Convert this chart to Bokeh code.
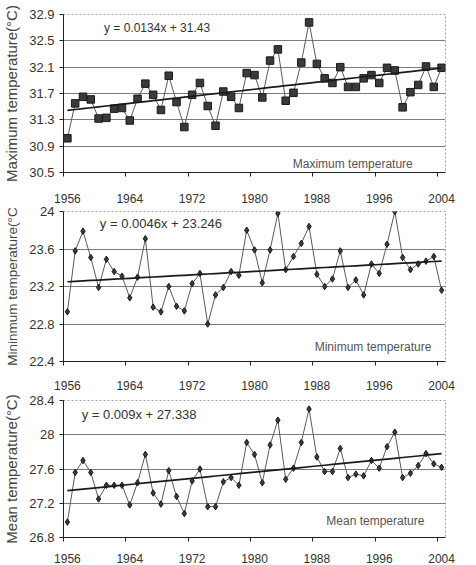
from bokeh.plotting import figure
from bokeh.layouts import column
from bokeh.models import Range1d, FixedTicker, Label
from bokeh.embed import file_html
from bokeh.resources import INLINE

# Annual series, 1956-2004
years = list(range(1956, 2005))

tmax = [31.02, 31.55, 31.65, 31.61, 31.32, 31.33, 31.47, 31.48, 31.29, 31.62,
        31.85, 31.68, 31.45, 31.97, 31.57, 31.19, 31.68, 31.86, 31.51, 31.21,
        31.73, 31.65, 31.48, 32.01, 31.98, 31.64, 32.20, 32.37, 31.59, 31.71,
        32.17, 32.78, 32.15, 31.93, 31.86, 32.10, 31.80, 31.80, 31.93, 31.98,
        31.86, 32.09, 32.05, 31.49, 31.72, 31.83, 32.11, 31.80, 32.09]

tmin = [22.93, 23.58, 23.79, 23.51, 23.19, 23.49, 23.36, 23.31, 23.08, 23.30,
        23.71, 22.98, 22.93, 23.20, 22.99, 22.94, 23.23, 23.34, 22.80, 23.11,
        23.19, 23.36, 23.32, 23.80, 23.59, 23.24, 23.59, 23.98, 23.38, 23.52,
        23.66, 23.84, 23.33, 23.20, 23.28, 23.58, 23.19, 23.27, 23.11, 23.44,
        23.34, 23.65, 24.00, 23.51, 23.38, 23.44, 23.47, 23.52, 23.16]

tmean = [26.98, 27.56, 27.70, 27.56, 27.25, 27.41, 27.41, 27.41, 27.18, 27.44,
         27.77, 27.32, 27.19, 27.58, 27.28, 27.08, 27.46, 27.60, 27.16, 27.16,
         27.45, 27.50, 27.41, 27.91, 27.77, 27.44, 27.88, 28.17, 27.48, 27.61,
         27.91, 28.30, 27.74, 27.57, 27.57, 27.84, 27.50, 27.54, 27.52, 27.70,
         27.61, 27.86, 28.03, 27.50, 27.55, 27.64, 27.78, 27.66, 27.62]

# Linear trend coefficients (x = year index starting at 1)
max_fit = (0.0134, 31.43)
min_fit = (0.0046, 23.246)
mean_fit = (0.009, 27.338)

# Axis ticks and labels
year_labels = [1956, 1964, 1972, 1980, 1988, 1996, 2004]
max_ticks = [30.5, 30.9, 31.3, 31.7, 32.1, 32.5, 32.9]
max_tick_labels = ["30.5", "30.9", "31.3", "31.7", "32.1", "32.5", "32.9"]
min_ticks = [22.4, 22.8, 23.2, 23.6, 24.0]
min_tick_labels = ["22.4", "22.8", "23.2", "23.6", "24"]
mean_ticks = [26.8, 27.2, 27.6, 28.0, 28.4]
mean_tick_labels = ["26.8", "27.2", "27.6", "28", "28.4"]

FONT = "Liberation Sans"
INK = "#333333"


def panel(values, fit, ticks, tick_labels, ylabel, eq_text, eq_xy, name, name_xy,
          marker, msize, height, top, bottom, lab_standoff, eq_size="13px",
          ylabel_size="15px"):
    p = figure(width=476, height=height,
               x_range=Range1d(1955.5, 2004.5),
               y_range=Range1d(ticks[0], ticks[-1]),
               output_backend="svg", toolbar_location=None,
               min_border_left=62, min_border_right=31,
               min_border_top=top, min_border_bottom=bottom,
               background_fill_color="white", border_fill_color="white")
    p.outline_line_color = "#a0a0a0"
    p.outline_line_dash = "2 2"
    p.outline_line_width = 1

    p.xgrid.visible = False
    p.ygrid.ticker = FixedTicker(ticks=ticks[1:-1])
    p.ygrid.grid_line_color = "#7c7c7c"
    p.ygrid.grid_line_width = 1

    # labels on the year categories, tick marks on the category boundaries
    xa = p.xaxis[0]
    xa.ticker = FixedTicker(ticks=year_labels,
                            minor_ticks=[y - 0.5 for y in year_labels])
    xa.major_tick_out = 0
    xa.major_tick_in = 0
    xa.major_tick_line_color = None
    xa.minor_tick_out = 4
    xa.minor_tick_in = 0
    xa.minor_tick_line_color = "#222222"
    xa.axis_line_color = "#222222"
    xa.major_label_standoff = lab_standoff
    xa.major_label_text_font = FONT
    xa.major_label_text_font_size = "12px"
    xa.major_label_text_color = INK

    ya = p.yaxis[0]
    ya.ticker = FixedTicker(ticks=ticks)
    ya.major_label_overrides = dict(zip(ticks, tick_labels))
    ya.major_tick_out = 4
    ya.major_tick_in = 0
    ya.minor_tick_line_color = None
    ya.axis_line_color = "#222222"
    ya.major_tick_line_color = "#222222"
    ya.major_label_standoff = 5
    ya.major_label_text_font = FONT
    ya.major_label_text_font_size = "13px"
    ya.major_label_text_color = INK
    ya.axis_label = ylabel
    ya.axis_label_text_font = FONT
    ya.axis_label_text_font_size = ylabel_size
    ya.axis_label_text_font_style = "normal"
    ya.axis_label_text_color = "#444444"
    ya.axis_label_standoff = 6

    slope, intercept = fit
    trend = [slope * (i + 1) + intercept for i in range(len(years))]

    p.line(years, values, line_color="#5a5a5a", line_width=1)
    p.scatter(years, values, marker=marker, size=msize,
              fill_color="#3a3a3a", line_color="#1a1a1a", line_width=1)
    p.line(years, trend, line_color="#1a1a1a", line_width=1.7)

    p.add_layout(Label(x=eq_xy[0], y=eq_xy[1], text=eq_text, text_font=FONT,
                       text_font_size=eq_size, text_color=INK,
                       text_align="center", text_baseline="middle"))
    p.add_layout(Label(x=name_xy[0], y=name_xy[1], text=name, text_font=FONT,
                       text_font_size="12px", text_color="#555555",
                       text_align="center", text_baseline="middle"))
    return p


p1 = panel(tmax, max_fit, max_ticks, max_tick_labels, "Maximum temperature(°C)",
           "y = 0.0134x + 31.43", (1967.5, 32.70),
           "Maximum temperature", (1992.6, 30.63),
           "square", 7.5, 205, 14, 32, 17, eq_size="12px")
p2 = panel(tmin, min_fit, min_ticks, min_tick_labels, "Mininmum temperature(°C",
           "y = 0.0046x + 23.246", (1968.0, 23.87),
           "Minimum temperature", (1995.2, 22.56),
           "diamond", 6.5, 187, 6, 28, 15, ylabel_size="13.5px")
p3 = panel(tmean, mean_fit, mean_ticks, mean_tick_labels, "Mean temperature(°C)",
           "y = 0.009x + 27.338", (1965.2, 28.24),
           "Mean temperature", (1995.5, 26.99),
           "diamond", 6.5, 173, 8, 26, 12)

layout = column(p1, p2, p3, spacing=0)
open("out.html", "w").write(file_html(layout, INLINE))
